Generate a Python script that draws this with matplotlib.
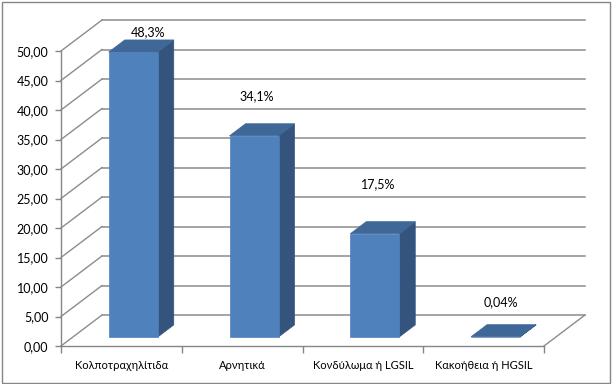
import matplotlib
matplotlib.use("Agg")
import matplotlib.pyplot as plt
from matplotlib.patches import Polygon, Rectangle

# ---- data ----
categories = ["Κολποτραχηλίτιδα", "Αρνητικά", "Κονδύλωμα ή LGSIL", "Κακοήθεια ή HGSIL"]
values = [48.3, 34.1, 17.5, 0.04]
value_labels = ["48,3%", "34,1%", "17,5%", "0,04%"]
y_ticks = [0, 5, 10, 15, 20, 25, 30, 35, 40, 45, 50]

# ---- layout / style ----
W, H = 612, 384
FONT = ["Lato", "DejaVu Sans"]
FS_NUM = 9.0
FS_CAT = 8.0
plt.rcParams['font.family'] = FONT

# label offsets (pixels) relative to the bar's top-front centre
label_offsets = [(15, 20), (2.5, 40), (3, 50), (5.5, 35)]

front_blue = "#4F81BD"
top_blue = "#3F6797"
side_blue = "#34547E"
grid_col = "#8C8C8C"
axis_col = "#868686"

fig = plt.figure(figsize=(W / 100, H / 100), dpi=100)
fig.patch.set_facecolor("white")
x0p, x1p, y0p, y1p = 61, 544, 346, 51   # pixel extent of the front plane
ax = fig.add_axes([x0p / W, (H - y0p) / H, (x1p - x0p) / W, (y0p - y1p) / H])
ax.set_xlim(0, len(categories))
ax.set_ylim(0, 50)
ax.set_facecolor("none")

px_per_cat = (x1p - x0p) / len(categories)
px_per_val = (y0p - y1p) / 50.0
DDX = 41 / px_per_cat      # full depth offset in data units
DDY = 31 / px_per_val

def P(x, y, d):
    return (x + d * DDX, y + d * DDY)

# walls / gridlines
for v in y_ticks:
    a = P(0, v, 1); b = P(len(categories), v, 1); c = P(0, v, 0)
    ax.plot([a[0], b[0]], [a[1], b[1]], color=grid_col, lw=1.1, clip_on=False, zorder=1)
    ax.plot([c[0], a[0]], [c[1], a[1]], color=grid_col, lw=1.0, clip_on=False, zorder=1)
a = P(len(categories), 0, 0); b = P(len(categories), 0, 1)
ax.plot([a[0], b[0]], [a[1], b[1]], color=grid_col, lw=1.0, clip_on=False, zorder=1)

# bars
F0, F1 = 0.29, 0.68
half_w = (49 / px_per_cat) / 2
for i, v in enumerate(values):
    xa = i + 0.5 - half_w
    xb = i + 0.5 + half_w
    front = [P(xa, 0, F0), P(xb, 0, F0), P(xb, v, F0), P(xa, v, F0)]
    side = [P(xb, 0, F0), P(xb, 0, F1), P(xb, v, F1), P(xb, v, F0)]
    top = [P(xa, v, F0), P(xb, v, F0), P(xb, v, F1), P(xa, v, F1)]
    for pts, col in ((side, side_blue), (front, front_blue), (top, top_blue)):
        ax.add_patch(Polygon(pts, closed=True, facecolor=col, edgecolor=col,
                             lw=0.5, clip_on=False, zorder=3))
    cx, cy = P(i + 0.5, v, F0)
    dx, dy = label_offsets[i]
    ax.annotate(value_labels[i], xy=(cx, cy), xytext=(dx * 0.72, dy * 0.72),
                textcoords="offset points", ha="center", va="center",
                fontsize=FS_NUM, color="black", zorder=5, annotation_clip=False)

# axes styling
for s in ("top", "right"):
    ax.spines[s].set_visible(False)
for s in ("left", "bottom"):
    ax.spines[s].set_color(axis_col)
    ax.spines[s].set_linewidth(1.0)
    ax.spines[s].set_zorder(2)

ax.set_yticks(y_ticks)
ax.set_yticklabels([f"{t:.2f}".replace(".", ",") for t in y_ticks])
ax.tick_params(axis="y", length=4, width=1, color=axis_col, pad=5, labelsize=FS_NUM)

ax.set_xticks(range(len(categories) + 1))
ax.set_xticklabels([""] * (len(categories) + 1))
ax.set_xticks([i + 0.5 for i in range(len(categories))], minor=True)
ax.set_xticklabels(categories, minor=True)
ax.tick_params(axis="x", which="major", length=5, width=1, color=axis_col)
ax.tick_params(axis="x", which="minor", length=0, pad=10, labelsize=FS_CAT)

# chart border
fig.add_artist(Rectangle((1.5 / W, 1.5 / H), (W - 4) / W, (H - 3) / H,
                         transform=fig.transFigure, fill=False,
                         edgecolor=axis_col, lw=1.0))

fig.savefig("out.png", dpi=100)
